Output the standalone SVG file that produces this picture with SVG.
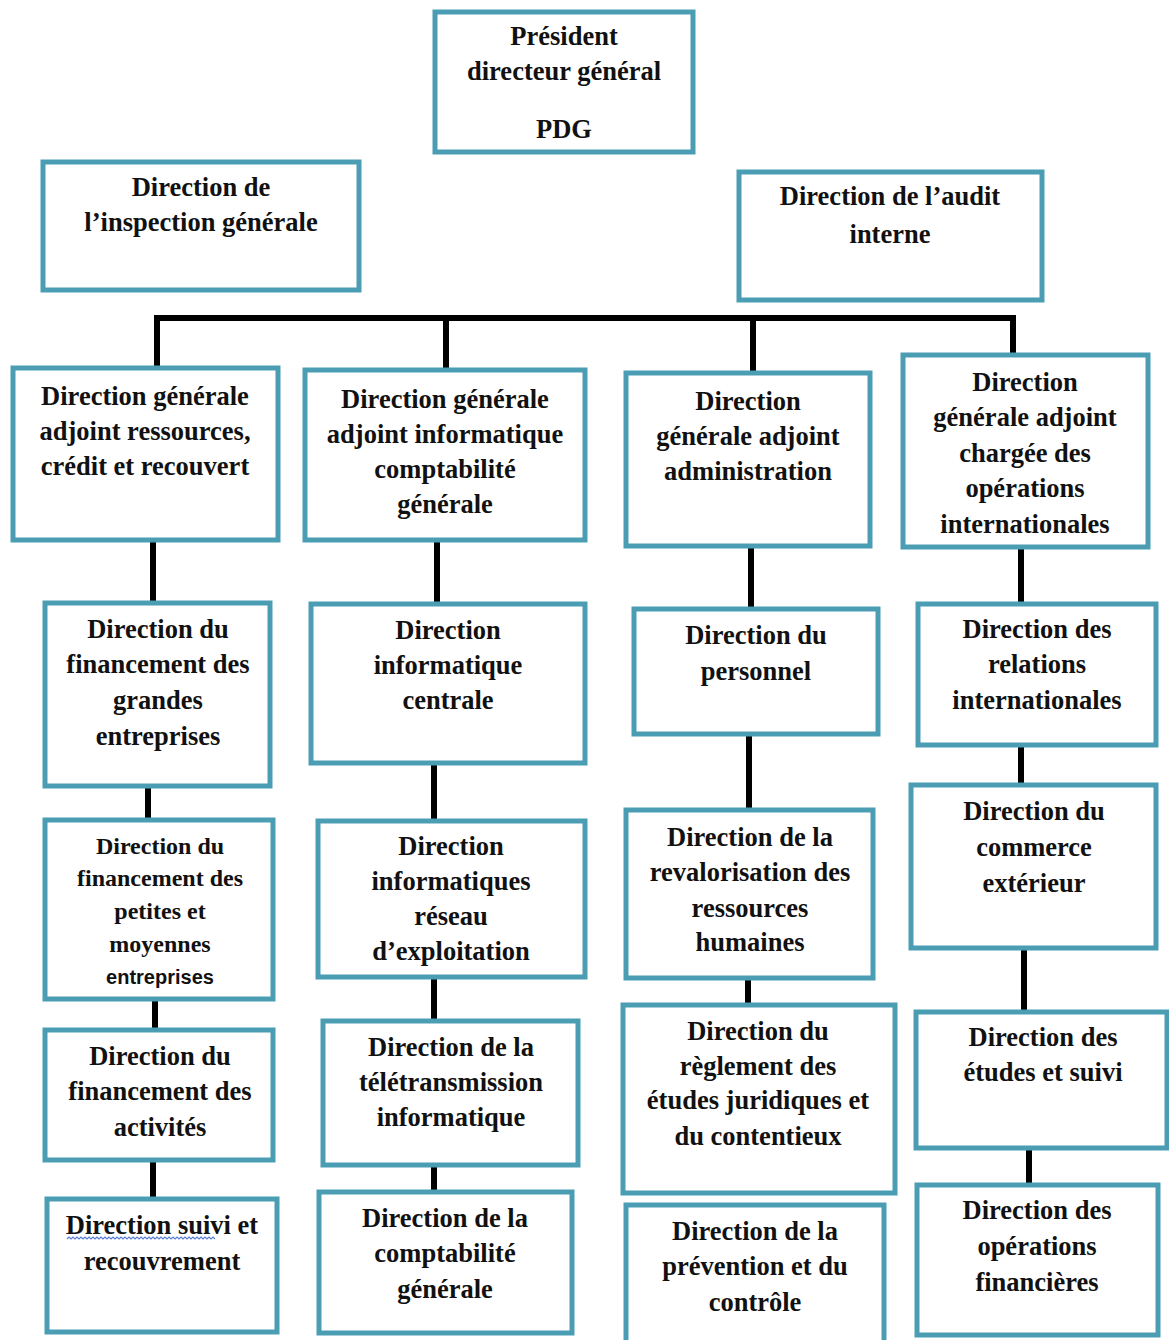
<svg xmlns="http://www.w3.org/2000/svg" width="1169" height="1340" viewBox="0 0 1169 1340">
<style>
.box{fill:#ffffff;stroke:#4a9db3;stroke-width:5}
.lbl{font-family:"Liberation Serif","Times New Roman",serif;font-weight:bold;font-size:26.5px;fill:#111111;text-anchor:middle}
.sm{font-size:24px}
.sans{font-family:"Liberation Sans",Arial,sans-serif;font-size:20px}
.conn{fill:none;stroke:#000000;stroke-width:6}
.wavy{fill:none;stroke:#5a7ed0;stroke-width:1.2}
</style>
<rect width="1169" height="1340" fill="#ffffff"/>

<g id="connectors">
<path class="conn" d="M157,368 V318 H1013 V355"/>
<path class="conn" d="M446,318 V370"/>
<path class="conn" d="M753,318 V373"/>
<path class="conn" d="M153,540 V603"/>
<path class="conn" d="M437,540 V604"/>
<path class="conn" d="M751,546 V609"/>
<path class="conn" d="M1021,547 V604"/>
<path class="conn" d="M148,786 V820"/>
<path class="conn" d="M434,763 V821"/>
<path class="conn" d="M749,734 V810"/>
<path class="conn" d="M1021,745 V785"/>
<path class="conn" d="M155,999 V1030"/>
<path class="conn" d="M434,970 V1021"/>
<path class="conn" d="M748,978 V1005"/>
<path class="conn" d="M1024,948 V1012"/>
<path class="conn" d="M153,1160 V1199"/>
<path class="conn" d="M434,1165 V1192"/>
<path class="conn" d="M1029,1148 V1185"/>
</g>

<g id="pdg">
<rect class="box" x="435" y="12" width="258" height="140"/>
<text class="lbl" x="564" y="45">Président</text>
<text class="lbl" x="564" y="80">directeur général</text>
<text class="lbl" x="564" y="138">PDG</text>
</g>

<g id="inspection">
<rect class="box" x="43" y="162" width="316" height="128"/>
<text class="lbl" x="201" y="196">Direction de</text>
<text class="lbl" x="201" y="231">l’inspection générale</text>
</g>

<g id="audit">
<rect class="box" x="739" y="172" width="303" height="128"/>
<text class="lbl" x="890" y="205">Direction de l’audit</text>
<text class="lbl" x="890" y="243">interne</text>
</g>

<g id="dga-ressources">
<rect class="box" x="13" y="368" width="265" height="172"/>
<text class="lbl" x="145" y="405">Direction générale</text>
<text class="lbl" x="145" y="440">adjoint ressources,</text>
<text class="lbl" x="145" y="475">crédit et recouvert</text>
</g>

<g id="dga-informatique">
<rect class="box" x="305" y="370" width="280" height="170"/>
<text class="lbl" x="445" y="408">Direction générale</text>
<text class="lbl" x="445" y="443">adjoint informatique</text>
<text class="lbl" x="445" y="478">comptabilité</text>
<text class="lbl" x="445" y="513">générale</text>
</g>

<g id="dga-administration">
<rect class="box" x="626" y="373" width="244" height="173"/>
<text class="lbl" x="748" y="410">Direction</text>
<text class="lbl" x="748" y="445">générale adjoint</text>
<text class="lbl" x="748" y="480">administration</text>
</g>

<g id="dga-international">
<rect class="box" x="903" y="355" width="245" height="192"/>
<text class="lbl" x="1025" y="391">Direction</text>
<text class="lbl" x="1025" y="426">générale adjoint</text>
<text class="lbl" x="1025" y="462">chargée des</text>
<text class="lbl" x="1025" y="497">opérations</text>
<text class="lbl" x="1025" y="533">internationales</text>
</g>

<g id="fin-grandes">
<rect class="box" x="45" y="603" width="225" height="183"/>
<text class="lbl" x="158" y="638">Direction du</text>
<text class="lbl" x="158" y="673">financement des</text>
<text class="lbl" x="158" y="709">grandes</text>
<text class="lbl" x="158" y="745">entreprises</text>
</g>

<g id="info-centrale">
<rect class="box" x="311" y="604" width="274" height="159"/>
<text class="lbl" x="448" y="639">Direction</text>
<text class="lbl" x="448" y="674">informatique</text>
<text class="lbl" x="448" y="709">centrale</text>
</g>

<g id="personnel">
<rect class="box" x="634" y="609" width="244" height="125"/>
<text class="lbl" x="756" y="644">Direction du</text>
<text class="lbl" x="756" y="680">personnel</text>
</g>

<g id="relations-int">
<rect class="box" x="918" y="604" width="238" height="141"/>
<text class="lbl" x="1037" y="638">Direction des</text>
<text class="lbl" x="1037" y="673">relations</text>
<text class="lbl" x="1037" y="709">internationales</text>
</g>

<g id="fin-pme">
<rect class="box" x="45" y="820" width="228" height="179"/>
<text class="lbl sm" x="160" y="854">Direction du</text>
<text class="lbl sm" x="160" y="886">financement des</text>
<text class="lbl sm" x="160" y="919">petites et</text>
<text class="lbl sm" x="160" y="952">moyennes</text>
<text class="lbl sans" x="160" y="984">entreprises</text>
</g>

<g id="info-reseau">
<rect class="box" x="318" y="821" width="267" height="156"/>
<text class="lbl" x="451" y="855">Direction</text>
<text class="lbl" x="451" y="890">informatiques</text>
<text class="lbl" x="451" y="925">réseau</text>
<text class="lbl" x="451" y="960">d’exploitation</text>
</g>

<g id="revalorisation">
<rect class="box" x="626" y="810" width="247" height="168"/>
<text class="lbl" x="750" y="846">Direction de la</text>
<text class="lbl" x="750" y="881">revalorisation des</text>
<text class="lbl" x="750" y="917">ressources</text>
<text class="lbl" x="750" y="951">humaines</text>
</g>

<g id="commerce-ext">
<rect class="box" x="911" y="785" width="245" height="163"/>
<text class="lbl" x="1034" y="820">Direction du</text>
<text class="lbl" x="1034" y="856">commerce</text>
<text class="lbl" x="1034" y="892">extérieur</text>
</g>

<g id="fin-activites">
<rect class="box" x="45" y="1030" width="228" height="130"/>
<text class="lbl" x="160" y="1065">Direction du</text>
<text class="lbl" x="160" y="1100">financement des</text>
<text class="lbl" x="160" y="1136">activités</text>
</g>

<g id="teletransmission">
<rect class="box" x="323" y="1021" width="255" height="144"/>
<text class="lbl" x="451" y="1056">Direction de la</text>
<text class="lbl" x="451" y="1091">télétransmission</text>
<text class="lbl" x="451" y="1126">informatique</text>
</g>

<g id="reglement">
<rect class="box" x="623" y="1005" width="272" height="188"/>
<text class="lbl" x="758" y="1040">Direction du</text>
<text class="lbl" x="758" y="1075">règlement des</text>
<text class="lbl" x="758" y="1109">études juridiques et</text>
<text class="lbl" x="758" y="1145">du contentieux</text>
</g>

<g id="etudes-suivi">
<rect class="box" x="916" y="1012" width="251" height="136"/>
<text class="lbl" x="1043" y="1046">Direction des</text>
<text class="lbl" x="1043" y="1081">études et suivi</text>
</g>

<g id="suivi-recouvrement">
<rect class="box" x="47" y="1199" width="230" height="133"/>
<text class="lbl" x="162" y="1234">Direction suivi et</text>
<text class="lbl" x="162" y="1270">recouvrement</text>
<path class="wavy" d="M67,1239 l2,-2 l2,2 l2,-2 l2,2 l2,-2 l2,2 l2,-2 l2,2 l2,-2 l2,2 l2,-2 l2,2 l2,-2 l2,2 l2,-2 l2,2 l2,-2 l2,2 l2,-2 l2,2 l2,-2 l2,2 l2,-2 l2,2 l2,-2 l2,2 l2,-2 l2,2 l2,-2 l2,2 l2,-2 l2,2 l2,-2 l2,2 l2,-2 l2,2 l2,-2 l2,2 l2,-2 l2,2 l2,-2 l2,2 l2,-2 l2,2 l2,-2 l2,2 l2,-2 l2,2 l2,-2 l2,2 l2,-2 l2,2 l2,-2 l2,2 l2,-2 l2,2 l2,-2 l2,2 l2,-2 l2,2 l2,-2 l2,2 l2,-2 l2,2 l2,-2 l2,2 l2,-2 l2,2 l2,-2 l2,2 l2,-2 l2,2 l2,-2 l2,2"/>
</g>

<g id="comptabilite">
<rect class="box" x="319" y="1192" width="253" height="141"/>
<text class="lbl" x="445" y="1227">Direction de la</text>
<text class="lbl" x="445" y="1262">comptabilité</text>
<text class="lbl" x="445" y="1298">générale</text>
</g>

<g id="prevention">
<rect class="box" x="626" y="1205" width="258" height="140"/>
<text class="lbl" x="755" y="1240">Direction de la</text>
<text class="lbl" x="755" y="1275">prévention et du</text>
<text class="lbl" x="755" y="1311">contrôle</text>
</g>

<g id="operations-fin">
<rect class="box" x="917" y="1185" width="241" height="150"/>
<text class="lbl" x="1037" y="1219">Direction des</text>
<text class="lbl" x="1037" y="1255">opérations</text>
<text class="lbl" x="1037" y="1291">financières</text>
</g>
</svg>
